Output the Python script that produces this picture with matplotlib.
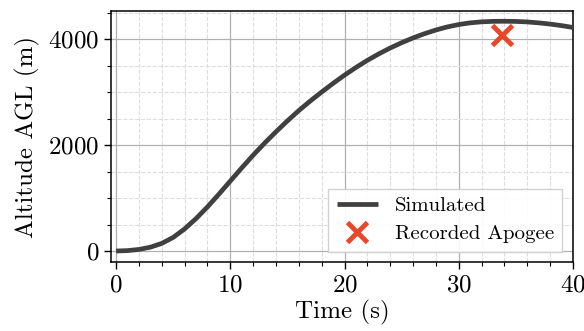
import matplotlib
matplotlib.use('Agg')
import matplotlib.pyplot as plt
from matplotlib.ticker import MultipleLocator

plt.rcParams['font.family'] = 'serif'
plt.rcParams['font.serif'] = ['cmr10']
plt.rcParams['axes.formatter.use_mathtext'] = True
plt.rcParams['mathtext.fontset'] = 'cm'

# simulated flight
time_s = [0, 1, 2, 3, 4, 5, 6, 7, 8, 9, 10, 11, 12, 13, 14, 15, 16, 17, 18, 19,
          20, 21, 22, 23, 24, 25, 26, 27, 28, 29, 30, 31, 32, 33, 34, 35, 36,
          37, 38, 39, 40]
altitude_m = [0, 8, 30, 72, 144, 257, 417, 612, 832, 1072, 1320, 1568, 1808,
              2035, 2250, 2455, 2650, 2830, 3000, 3163, 3318, 3463, 3597, 3719,
              3830, 3930, 4020, 4100, 4170, 4228, 4273, 4305, 4324, 4333, 4335,
              4332, 4322, 4305, 4282, 4253, 4218]

apogee_t = [33.75]
apogee_alt = [4070]

fig = plt.figure(figsize=(5.84, 3.31), dpi=100)
ax = fig.add_axes([0.190, 0.208, 0.791, 0.759])

ax.plot(time_s, altitude_m, color='#404040', lw=3.4, label='Simulated',
        zorder=3, solid_capstyle='butt', solid_joinstyle='round')
ax.plot(apogee_t, apogee_alt, 'x', color='#e8472a', ms=14, mew=3.5,
        label='Recorded Apogee', zorder=4)

ax.set_xlim(-0.45, 40)
ax.set_ylim(-210, 4530)
ax.xaxis.set_major_locator(MultipleLocator(10))
ax.xaxis.set_minor_locator(MultipleLocator(2))
ax.yaxis.set_major_locator(MultipleLocator(2000))
ax.yaxis.set_minor_locator(MultipleLocator(500))

ax.grid(which='major', color='#b0b0b0', lw=0.9)
ax.grid(which='minor', color='#dddddd', lw=0.8, ls='--')
ax.set_axisbelow(True)

ax.tick_params(which='major', length=5, width=1, labelsize=18, direction='out')
ax.tick_params(which='minor', length=3, width=0.8, direction='out')
for s in ax.spines.values():
    s.set_color('black')
    s.set_linewidth(1.1)

ax.set_xlabel('Time (s)', fontsize=18, labelpad=3)
ax.set_ylabel('Altitude AGL (m)', fontsize=18, labelpad=6)

leg = ax.legend(loc='lower right', fontsize=15, fancybox=False,
                edgecolor='#cccccc', framealpha=0.9, handlelength=2.0,
                labelspacing=0.45)
leg.get_frame().set_linewidth(1)

fig.savefig('out.png', dpi=100)
